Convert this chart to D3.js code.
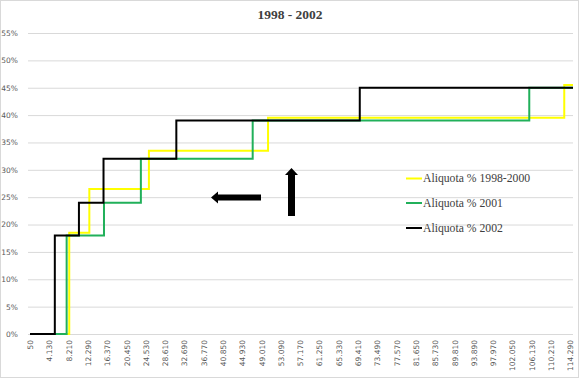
<!DOCTYPE html>
<html>
<head>
<meta charset="utf-8">
<script src="https://cdn.jsdelivr.net/npm/d3@7"></script>
<style>
  html, body { margin: 0; padding: 0; background: #fff; }
  svg { display: block; }
</style>
</head>
<body>
<svg id="chart" width="579" height="378"></svg>
<script>
// ---- data ----
const title = "1998 - 2002";
const seriesNames = ["Aliquota % 1998-2000", "Aliquota % 2001", "Aliquota % 2002"];
const seriesColors = ["#ffff00", "#21b05a", "#000000"];
// income thresholds (start of each bracket) and rates
const thresholds9800 = [50, 8350, 12600, 25200, 50400, 113050, 114900];
const rates9800      = [0, 0.185, 0.265, 0.335, 0.395, 0.455, 0.455];
const thresholds01   = [50, 7800, 15700, 23500, 47150, 105650, 114900];
const rates01        = [0, 0.18, 0.24, 0.32, 0.39, 0.45, 0.45];
const thresholds02   = [50, 5300, 10400, 15600, 31000, 69800, 114900];
const rates02        = [0, 0.18, 0.24, 0.32, 0.39, 0.45, 0.45];
const xTickValues = [50, 4130, 8210, 12290, 16370, 20450, 24530, 28610, 32690, 36770,
  40850, 44930, 49010, 53090, 57170, 61250, 65330, 69410, 73490, 77570, 81650,
  85730, 89810, 93890, 97970, 102050, 106130, 110210, 114290];
const yTickValues = [0, 0.05, 0.10, 0.15, 0.20, 0.25, 0.30, 0.35, 0.40, 0.45, 0.50, 0.55];

const seriesData = [
  thresholds9800.map((t, i) => [t, rates9800[i]]),
  thresholds01.map((t, i) => [t, rates01[i]]),
  thresholds02.map((t, i) => [t, rates02[i]])
];

// ---- layout ----
const svg = d3.select("#chart");
const W = 579, H = 378;
const x = d3.scaleLinear().domain([50, 114900]).range([30, 573]);
const y = d3.scaleLinear().domain([0, 0.55]).range([334, 33]);

const loc = d3.formatLocale({decimal: ",", thousands: ".", grouping: [3], currency: ["€", ""]});
const fmtX = loc.format(",d");
const fmtY = d3.format(".0%");

// chart border
svg.append("rect").attr("x", 0.5).attr("y", 0.5).attr("width", W - 1).attr("height", H - 1)
  .attr("fill", "#fff").attr("stroke", "#d9d9d9");

// title
svg.append("text").attr("x", 290).attr("y", 19).attr("text-anchor", "middle")
  .attr("font-family", "Liberation Serif, serif").attr("font-size", 13.5).attr("font-weight", "bold")
  .attr("fill", "#404040").text(title);

// y gridlines + labels
const yAxis = d3.axisLeft(y).tickValues(yTickValues).tickSize(-(573 - 28)).tickPadding(10).tickFormat(fmtY);
const gy = svg.append("g").attr("transform", "translate(28,0)").call(yAxis);
gy.select(".domain").remove();
gy.selectAll(".tick line").attr("stroke", "#d9d9d9").attr("stroke-width", 1);
gy.selectAll(".tick text").attr("x", -10).attr("text-anchor", "end")
  .attr("font-family", "DejaVu Sans, sans-serif").attr("font-size", 7.5).attr("fill", "#595959");

// x axis labels
const xAxis = d3.axisBottom(x).tickValues(xTickValues).tickSize(0).tickFormat(fmtX);
const gx = svg.append("g").attr("transform", "translate(0,334)").call(xAxis);
gx.select(".domain").remove();
gx.selectAll(".tick text")
  .attr("font-family", "DejaVu Sans, sans-serif").attr("font-size", 7.5).attr("fill", "#595959")
  .attr("text-anchor", "end").attr("transform", "rotate(-90)")
  .attr("x", -6).attr("y", 0).attr("dy", "0.35em");

// step lines
const line = d3.line().x(d => x(d[0])).y(d => y(d[1])).curve(d3.curveStepAfter);
svg.append("g").selectAll("path").data(seriesData).join("path")
  .attr("d", line).attr("fill", "none")
  .attr("stroke", (d, i) => seriesColors[i]).attr("stroke-width", 2)
  .attr("stroke-linejoin", "miter");

// arrows
const arrows = svg.append("g").attr("fill", "#000");
arrows.append("path").attr("d", "M211,197.5 L218,191.5 L218,194.5 L261,194.5 L261,200.5 L218,200.5 L218,203.5 Z");
arrows.append("path").attr("d", "M291.5,168 L298,175 L295,175 L295,216 L288,216 L288,175 L285,175 Z");

// legend
const legend = svg.append("g");
const legendY = [178.5, 203, 228];
seriesNames.forEach((name, i) => {
  legend.append("line").attr("x1", 406).attr("x2", 422).attr("y1", legendY[i]).attr("y2", legendY[i])
    .attr("stroke", seriesColors[i]).attr("stroke-width", 2);
  legend.append("text").attr("x", 423).attr("y", legendY[i] + 3.5)
    .attr("font-family", "Liberation Serif, serif").attr("font-size", 11.7).attr("fill", "#404040")
    .text(name);
});
</script>
</body>
</html>
